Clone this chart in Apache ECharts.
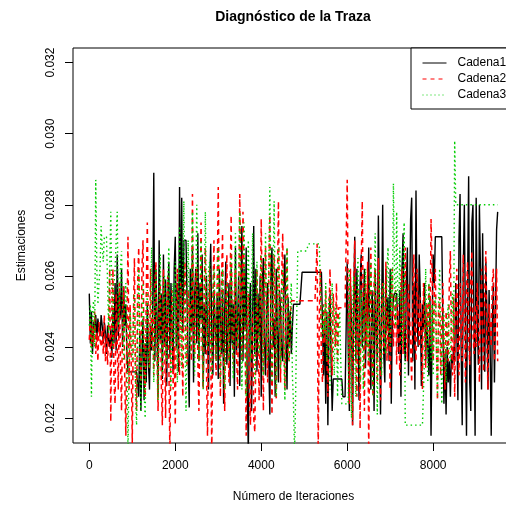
<!DOCTYPE html>
<html>
<head>
<meta charset="utf-8">
<script src="https://cdn.jsdelivr.net/npm/echarts@6/dist/echarts.min.js"></script>
<style>html,body{margin:0;padding:0;background:#fff;}#c{width:506px;height:506px;}</style>
</head>
<body>
<div id="c"></div>
<script>
// Thinning step between stored iterations
const paso = 25;
const xTicks = [0, 2000, 4000, 6000, 8000];
const yTicks = [0.022, 0.024, 0.026, 0.028, 0.030, 0.032];
const nombres = ['Cadena1', 'Cadena2', 'Cadena3'];

const cadena1 = [
.0255,.0241,.0250,.0238,.0247,.0244,.0249,.0242,.0248,.0245,.0243,.0249,.0246,.0241,.0247,.0244,.0238,.0246,.0242,.0240,
.0245,.0237,.0250,.0241,.0258,.0239,.0266,.0243,.0255,.0248,.0262,.0240,.0257,.0246,.0252,.0238,.0233,.0233,.0233,.0233,
.0233,.0233,.0233,.0233,.0233,.0233,.0226,.0244,.0222,.0238,.0248,.0225,.0241,.0230,.0252,.0236,.0228,.0246,.0239,.0250,
.0289,.0236,.0262,.0248,.0226,.0270,.0242,.0255,.0231,.0266,.0240,.0259,.0229,.0252,.0264,.0237,.0258,.0245,.0233,.0262,
.0271,.0240,.0258,.0233,.0285,.0248,.0282,.0244,.0270,.0270,.0270,.0270,.0236,.0223,.0262,.0245,.0268,.0230,.0254,.0262,
.0241,.0272,.0236,.0258,.0248,.0266,.0229,.0252,.0238,.0260,.0245,.0228,.0258,.0269,.0242,.0232,.0256,.0247,.0238,.0255,
.0231,.0262,.0247,.0238,.0256,.0224,.0250,.0264,.0235,.0245,.0258,.0229,.0262,.0241,.0252,.0226,.0268,.0238,.0247,.0260,
.0229,.0254,.0274,.0236,.0262,.0245,.0268,.0228,.0210,.0252,.0258,.0222,.0248,.0274,.0238,.0262,.0233,.0255,.0243,.0260,
.0226,.0258,.0265,.0241,.0232,.0252,.0258,.0236,.0221,.0262,.0268,.0240,.0248,.0226,.0262,.0245,.0230,.0256,.0250,.0238,
.0236,.0258,.0266,.0242,.0228,.0254,.0240,.0250,.0238,.0246,.0252,.0252,.0252,.0252,.0252,.0252,.0252,.0252,.0261,.0261,
.0261,.0261,.0261,.0261,.0261,.0261,.0261,.0261,.0261,.0261,.0261,.0261,.0261,.0261,.0261,.0261,.0261,.0261,.0232,.0248,
.0224,.0250,.0218,.0245,.0255,.0236,.0222,.0231,.0231,.0231,.0231,.0231,.0231,.0231,.0231,.0231,.0226,.0226,.0226,.0226,
.0264,.0238,.0222,.0258,.0247,.0218,.0252,.0271,.0236,.0262,.0244,.0225,.0258,.0266,.0240,.0250,.0262,.0234,.0255,.0246,
.0268,.0240,.0228,.0256,.0250,.0222,.0262,.0245,.0236,.0277,.0252,.0221,.0248,.0280,.0238,.0230,.0262,.0245,.0254,.0236,
.0262,.0224,.0248,.0254,.0255,.0255,.0255,.0255,.0238,.0256,.0226,.0262,.0272,.0243,.0236,.0258,.0268,.0232,.0250,.0276,
.0282,.0236,.0258,.0228,.0284,.0250,.0240,.0266,.0255,.0229,.0252,.0245,.0258,.0236,.0248,.0240,.0232,.0254,.0215,.0244,
.0266,.0258,.0271,.0271,.0271,.0271,.0271,.0271,.0271,.0271,.0224,.0238,.0221,.0240,.0230,.0236,.0226,.0238,.0234,.0240,
.0236,.0258,.0245,.0225,.0270,.0283,.0240,.0218,.0262,.0280,.0244,.0215,.0258,.0288,.0230,.0222,.0275,.0280,.0246,.0215,
.0282,.0250,.0235,.0280,.0262,.0228,.0272,.0244,.0233,.0264,.0250,.0228,.0256,.0240,.0215,.0246,.0258,.0230,.0250,.0273,
.0278
];

const cadena2 = [
.0242,.0248,.0240,.0246,.0241,.0250,.0238,.0244,.0236,.0247,.0242,.0240,.0245,.0238,.0249,.0236,.0243,.0235,.0246,.0262,
.0219,.0250,.0262,.0230,.0224,.0255,.0241,.0228,.0258,.0236,.0222,.0250,.0257,.0231,.0215,.0244,.0271,.0228,.0252,.0236,
.0213,.0248,.0265,.0232,.0222,.0258,.0268,.0240,.0230,.0262,.0270,.0236,.0226,.0255,.0275,.0244,.0234,.0262,.0240,.0250,
.0232,.0258,.0264,.0238,.0222,.0250,.0258,.0230,.0218,.0262,.0245,.0220,.0252,.0260,.0236,.0210,.0246,.0256,.0228,.0240,
.0218,.0250,.0262,.0240,.0232,.0258,.0246,.0226,.0252,.0264,.0238,.0235,.0256,.0248,.0252,.0236,.0283,.0244,.0238,.0260,
.0262,.0236,.0222,.0250,.0275,.0240,.0228,.0258,.0268,.0235,.0215,.0248,.0262,.0238,.0210,.0252,.0270,.0242,.0232,.0258,
.0285,.0246,.0226,.0258,.0272,.0238,.0222,.0250,.0266,.0242,.0230,.0258,.0277,.0244,.0235,.0255,.0262,.0238,.0228,.0250,
.0283,.0258,.0236,.0278,.0262,.0240,.0215,.0248,.0255,.0226,.0218,.0244,.0250,.0220,.0216,.0238,.0262,.0245,.0225,.0250,
.0276,.0248,.0222,.0258,.0268,.0240,.0230,.0262,.0277,.0246,.0221,.0250,.0266,.0238,.0225,.0256,.0281,.0248,.0230,.0260,
.0272,.0244,.0228,.0256,.0268,.0238,.0236,.0248,.0253,.0253,.0253,.0253,.0253,.0253,.0253,.0253,.0253,.0253,.0253,.0253,
.0253,.0253,.0253,.0253,.0253,.0253,.0253,.0253,.0253,.0253,.0253,.0253,.0269,.0210,.0248,.0262,.0236,.0230,.0252,.0241,
.0256,.0238,.0226,.0250,.0262,.0244,.0232,.0255,.0248,.0240,.0258,.0236,.0251,.0251,.0251,.0251,.0251,.0251,.0251,.0251,
.0287,.0250,.0224,.0262,.0240,.0218,.0255,.0270,.0238,.0226,.0256,.0248,.0217,.0262,.0281,.0244,.0222,.0258,.0240,.0264,
.0210,.0246,.0268,.0236,.0226,.0258,.0262,.0240,.0230,.0265,.0248,.0225,.0252,.0258,.0238,.0244,.0264,.0236,.0250,.0242,
.0228,.0256,.0262,.0240,.0248,.0256,.0235,.0252,.0244,.0232,.0258,.0262,.0238,.0250,.0268,.0244,.0236,.0258,.0250,.0240,
.0230,.0256,.0266,.0242,.0236,.0262,.0250,.0240,.0254,.0245,.0228,.0258,.0248,.0234,.0252,.0244,.0258,.0240,.0276,.0262,
.0236,.0254,.0262,.0240,.0225,.0250,.0254,.0232,.0246,.0258,.0238,.0228,.0250,.0244,.0236,.0258,.0267,.0240,.0232,.0254,
.0226,.0250,.0262,.0238,.0232,.0258,.0246,.0236,.0266,.0250,.0230,.0256,.0264,.0242,.0235,.0258,.0267,.0244,.0238,.0252,
.0240,.0258,.0250,.0230,.0246,.0262,.0242,.0233,.0256,.0267,.0240,.0228,.0252,.0246,.0240,.0258,.0262,.0236,.0250,.0262,
.0236
];

const cadena3 = [
.0246,.0252,.0226,.0250,.0253,.0240,.0287,.0262,.0252,.0258,.0262,.0274,.0268,.0264,.0271,.0271,.0271,.0258,.0244,.0262,
.0278,.0252,.0240,.0258,.0262,.0270,.0278,.0246,.0250,.0262,.0267,.0248,.0236,.0252,.0258,.0240,.0210,.0236,.0250,.0242,
.0236,.0248,.0255,.0226,.0218,.0244,.0262,.0234,.0222,.0250,.0258,.0228,.0220,.0246,.0256,.0236,.0234,.0252,.0268,.0245,
.0230,.0250,.0262,.0240,.0225,.0255,.0266,.0242,.0232,.0252,.0260,.0238,.0236,.0258,.0268,.0244,.0228,.0250,.0258,.0240,
.0264,.0246,.0230,.0256,.0274,.0250,.0234,.0262,.0281,.0245,.0222,.0250,.0270,.0248,.0238,.0258,.0278,.0246,.0232,.0256,
.0280,.0256,.0236,.0250,.0270,.0245,.0228,.0256,.0278,.0250,.0240,.0262,.0264,.0244,.0232,.0254,.0262,.0248,.0236,.0255,
.0268,.0246,.0230,.0252,.0262,.0244,.0228,.0250,.0258,.0246,.0236,.0255,.0266,.0242,.0231,.0256,.0272,.0250,.0240,.0258,
.0278,.0256,.0228,.0250,.0275,.0248,.0226,.0254,.0270,.0246,.0236,.0258,.0272,.0248,.0230,.0252,.0264,.0246,.0238,.0255,
.0266,.0248,.0232,.0252,.0272,.0250,.0236,.0262,.0285,.0256,.0230,.0258,.0281,.0250,.0226,.0252,.0268,.0245,.0234,.0256,
.0262,.0240,.0225,.0250,.0268,.0246,.0236,.0252,.0258,.0232,.0224,.0210,.0226,.0248,.0267,.0267,.0267,.0267,.0267,.0267,
.0267,.0267,.0267,.0267,.0269,.0269,.0269,.0269,.0269,.0269,.0269,.0269,.0269,.0269,.0269,.0269,.0246,.0242,.0252,.0244,
.0258,.0236,.0248,.0254,.0228,.0245,.0258,.0240,.0232,.0252,.0248,.0226,.0245,.0250,.0236,.0224,.0224,.0224,.0224,.0224,
.0224,.0224,.0262,.0240,.0220,.0250,.0260,.0238,.0226,.0254,.0265,.0242,.0230,.0256,.0246,.0228,.0252,.0262,.0240,.0248,
.0236,.0258,.0264,.0240,.0226,.0252,.0272,.0246,.0221,.0250,.0262,.0238,.0232,.0256,.0258,.0240,.0238,.0262,.0268,.0244,
.0240,.0262,.0250,.0286,.0260,.0246,.0278,.0255,.0252,.0268,.0248,.0240,.0262,.0275,.0218,.0218,.0218,.0218,.0218,.0218,
.0218,.0218,.0218,.0218,.0218,.0218,.0218,.0218,.0218,.0218,.0218,.0218,.0238,.0262,.0246,.0230,.0258,.0248,.0236,.0252,
.0232,.0250,.0254,.0240,.0226,.0252,.0262,.0244,.0224,.0246,.0250,.0236,.0230,.0248,.0252,.0238,.0236,.0250,.0255,.0242,
.0298,.0280,.0280,.0280,.0280,.0280,.0280,.0280,.0280,.0280,.0280,.0280,.0280,.0280,.0280,.0280,.0280,.0280,.0280,.0280,
.0280,.0280,.0280,.0280,.0280,.0280,.0280,.0280,.0280,.0280,.0280,.0280,.0280,.0280,.0280,.0280,.0280,.0280,.0280,.0280,
.0280
];

const FONT = '"Liberation Sans", Arial, Helvetica, sans-serif';
const pares = arr => arr.map((v, i) => [i * paso, v]);
const colores = ['#000000', '#FF0000', '#00CD00'];
const tiposLeyenda = ['solid', [4, 4], [1, 3]];
const tiposSerie = ['solid', [5, 4], [1.5, 3]];
const anchos = [1.4, 1.5, 1.4];

const chart = echarts.init(document.getElementById('c'), null, {renderer: 'canvas'});
chart.setOption({
  animation: false,
  backgroundColor: '#fff',
  textStyle: {fontFamily: FONT},
  grid: {left: 73, top: 48, right: -8, bottom: 63, show: true, borderColor: '#000', borderWidth: 1,
    backgroundColor: 'transparent', containLabel: false, outerBoundsMode: 'none'},
  graphic: [{
    type: 'text', x: 293, y: 17,
    style: {text: 'Diagnóstico de la Traza', font: 'bold 14px ' + FONT, fill: '#000', textAlign: 'center', textVerticalAlign: 'middle'}
  }],
  legend: {
    data: nombres.map((n, k) => ({name: n, lineStyle: {color: colores[k], width: 1, type: tiposLeyenda[k], opacity: 1}})),
    left: 411, top: 48, orient: 'vertical',
    itemWidth: 24, itemHeight: 12, itemGap: 4,
    padding: [9, 40, 8, 11],
    borderColor: '#000', borderWidth: 1, backgroundColor: '#fff',
    itemStyle: {opacity: 0},
    textStyle: {fontSize: 12, color: '#000', fontFamily: FONT, padding: [0, 0, 0, 6]}
  },
  xAxis: {
    type: 'value', min: -379, max: 9880,
    name: 'Número de Iteraciones', nameLocation: 'middle', nameGap: 48,
    nameTextStyle: {fontSize: 12, color: '#000', fontFamily: FONT},
    axisLine: {show: false, onZero: false},
    splitLine: {show: false},
    axisTick: {show: true, length: 8, customValues: xTicks, lineStyle: {color: '#000'}},
    axisLabel: {customValues: xTicks, fontSize: 12, color: '#000', margin: 17, fontFamily: FONT,
      formatter: v => String(v)}
  },
  yAxis: {
    type: 'value', min: 0.021298, max: 0.03241,
    name: 'Estimaciones', nameLocation: 'middle', nameGap: 45, nameRotate: 90,
    nameTextStyle: {fontSize: 12, color: '#000', fontFamily: FONT},
    axisLine: {show: false, onZero: false},
    splitLine: {show: false},
    axisTick: {show: true, length: 8, customValues: yTicks, lineStyle: {color: '#000'}},
    axisLabel: {customValues: yTicks, rotate: 90, fontSize: 12, color: '#000', margin: 16, fontFamily: FONT,
      formatter: v => v.toFixed(3)}
  },
  series: [cadena1, cadena2, cadena3].map((arr, k) => ({
    name: nombres[k], type: 'line', data: pares(arr), symbol: 'none', clip: true,
    lineStyle: {color: colores[k], width: anchos[k], type: tiposSerie[k]}, itemStyle: {color: colores[k]}
  }))
});
</script>
</body>
</html>
